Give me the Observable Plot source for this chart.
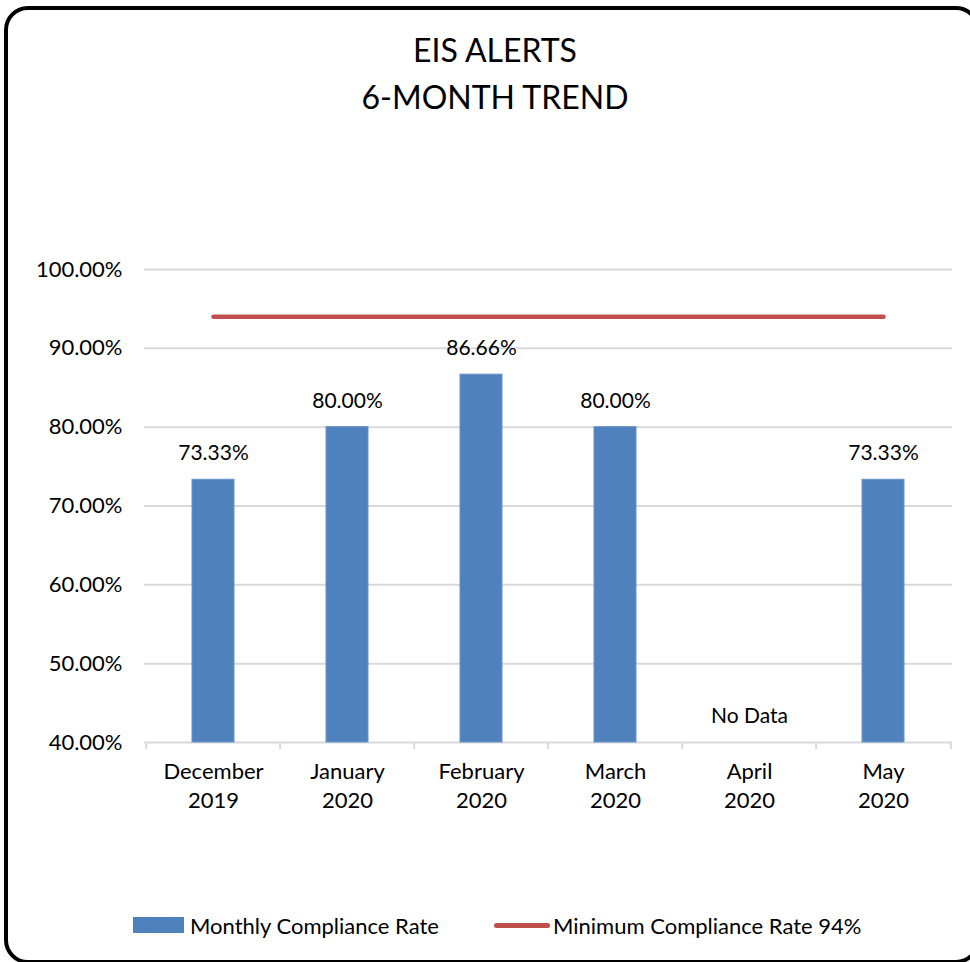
<!DOCTYPE html>
<html>
<head>
<meta charset="utf-8">
<script src="https://cdn.jsdelivr.net/npm/d3@7"></script>
<script src="https://cdn.jsdelivr.net/npm/@observablehq/plot@0.6"></script>
<style>
  html, body { margin: 0; padding: 0; background: #fff; overflow: hidden; }
  #wrap { position: relative; width: 970px; height: 962px; overflow: hidden; font-family: Lato, "Open Sans", sans-serif; color: #000; }
  #frame { position: absolute; left: 4px; top: 6px; width: 968px; height: 950px; border: 4px solid #000; border-radius: 24px; box-sizing: content-box; pointer-events: none; }
  #title { position: absolute; left: 10px; width: 970px; top: 26px; text-align: center; font-size: 32px; line-height: 47px; }
  #chart { position: absolute; left: 0; top: 0; }
  #legend { position: absolute; top: 911px; left: 0; width: 970px; font-size: 22px; }
  .item { position: absolute; top: 0; display: flex; align-items: center; height: 28px; white-space: nowrap; }
  .swatch-bar { width: 51px; height: 16px; background: #4F81BD; margin-right: 6px; }
  .swatch-line { width: 56px; height: 5px; background: #C0504D; border-radius: 3px; margin-right: 3px; }
</style>
</head>
<body>
<div id="wrap">
  <div id="chart"></div>
  <div id="title">EIS ALERTS<br>6-MONTH TREND</div>
  <div id="legend">
    <div class="item" style="left:133px"><div class="swatch-bar"></div><span id="leg1"></span></div>
    <div class="item" style="left:494px"><div class="swatch-line"></div><span id="leg2"></span></div>
  </div>
  <div id="frame"></div>
</div>
<script>
const months = ["Dec 2019", "Jan 2020", "Feb 2020", "Mar 2020", "Apr 2020", "May 2020"];
const monthLabels = ["December\n2019", "January\n2020", "February\n2020", "March\n2020", "April\n2020", "May\n2020"];
const complianceRate = [73.33, 80.00, 86.66, 80.00, null, 73.33];
const rateLabels = ["73.33%", "80.00%", "86.66%", "80.00%", "No Data", "73.33%"];
const minimumRate = 94;
const yTicks = [40, 50, 60, 70, 80, 90, 100];
const seriesNames = ["Monthly Compliance Rate", "Minimum Compliance Rate 94%"];

document.getElementById("leg1").textContent = seriesNames[0];
document.getElementById("leg2").textContent = seriesNames[1];

const rows = months.map((m, i) => ({month: m, label: monthLabels[i], value: complianceRate[i], text: rateLabels[i]}));
const barRows = rows.filter(d => d.value != null);
const yMin = yTicks[0];

const W = 970, H = 962, mL = 144, mR = 18, mT = 269, mB = 220;
const step = (W - mL - mR) / months.length;
const tickDepth = (yTicks[yTicks.length - 1] - yMin) / (H - mT - mB) * 7;

const chart = Plot.plot({
  width: W, height: H,
  marginLeft: mL, marginRight: mR, marginTop: mT, marginBottom: mB,
  style: {fontFamily: "Lato, 'Open Sans', sans-serif", color: "#000", background: "transparent"},
  x: {domain: months, paddingInner: 0.69, paddingOuter: 0.345, label: null},
  y: {domain: [yMin, yTicks[yTicks.length - 1]], label: null},
  marks: [
    Plot.gridY(yTicks, {stroke: "#d9d9d9", strokeOpacity: 1, strokeWidth: 2}),
    Plot.ruleX(months, {x: d => d, dx: -step / 2, y1: yMin, y2: yMin - tickDepth, stroke: "#d9d9d9", strokeWidth: 2}),
    Plot.ruleX(months.slice(-1), {x: d => d, dx: step / 2, y1: yMin, y2: yMin - tickDepth, stroke: "#d9d9d9", strokeWidth: 2}),
    Plot.barY(barRows, {x: "month", y1: () => yMin, y2: "value", fill: "#4F81BD", stroke: "#6a93c6", strokeWidth: 1}),
    Plot.line(months.map(m => ({month: m, v: minimumRate})), {x: "month", y: "v", stroke: "#C0504D", strokeWidth: 4.5, strokeLinecap: "round"}),
    Plot.text(rows, {x: "month", y: d => d.value == null ? yMin : d.value, text: "text", dy: -26, fontSize: 21, fill: "#000"}),
    Plot.axisY(yTicks, {tickSize: 0, tickPadding: 22, fontSize: 22, tickFormat: d => d.toFixed(2) + "%", fill: "#000", label: null}),
    Plot.axisX({tickSize: 0, tickPadding: 16, fontSize: 22, lineHeight: 1.32, tickFormat: d => monthLabels[months.indexOf(d)], fill: "#000", label: null})
  ]
});
document.getElementById("chart").appendChild(chart);
</script>
</body>
</html>
